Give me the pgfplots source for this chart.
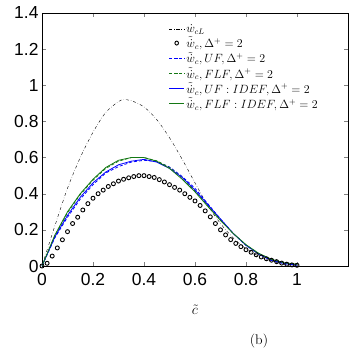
\documentclass[border=0pt]{standalone}
\usepackage{pgfplots}
\pgfplotsset{compat=1.18}
\usepackage{fontspec}
\newfontfamily\tickfont{Liberation Sans}
\definecolor{mgreen}{RGB}{20,120,20}
\begin{document}
\begin{tikzpicture}[x=1bp,y=1bp]
\useasboundingbox (-42,-88) rectangle (312,266);
\begin{axis}[
  at={(0,0)}, anchor=south west,
  scale only axis, width=306bp, height=253bp,
  xmin=0, xmax=1.2, ymin=0, ymax=1.4,
  xtick={0,0.2,0.4,0.6,0.8,1}, ytick={0,0.2,0.4,0.6,0.8,1,1.2,1.4},
  xticklabels={0,0.2,0.4,0.6,0.8,1},
  yticklabels={0,0.2,0.4,0.6,0.8,1,1.2,1.4},
  tick align=inside, tick pos=both,
  major tick length=4bp,
  ticklabel style={font=\tickfont\fontsize{17.5}{19}\selectfont},
  xticklabel style={yshift=-4bp},
  /pgf/number format/assume math mode=true,
  xlabel={$\tilde{c}$}, xlabel style={font=\fontsize{14}{16}\selectfont, at={(axis description cs:0.5,0)}, yshift=-44bp, anchor=center},
  legend style={draw=none, fill=none, at={(0.41,0.965)}, anchor=north west, font=\fontsize{11.5}{13}\selectfont, row sep=0bp, inner sep=1pt},
  legend cell align=left,
  legend image post style={xscale=0.9},
  every axis legend/.append style={nodes={inner sep=1.5pt}},
]
\addplot[black, thin, dash dot, smooth] coordinates {
(0,0) (0.05,0.22) (0.1,0.43) (0.15,0.6) (0.2,0.74) (0.25,0.85) (0.3,0.91) (0.32,0.92) (0.35,0.915) (0.4,0.88) (0.45,0.81) (0.5,0.71) (0.55,0.59) (0.6,0.46) (0.65,0.335) (0.7,0.235) (0.75,0.155) (0.8,0.095) (0.85,0.055) (0.9,0.027) (0.95,0.01) (1.0,0.003)};
\addlegendentry{$\dot{w}_{cL}$}
\addplot[only marks, mark=o, mark size=2bp, black, mark options={line width=0.9pt}] coordinates {
(0.00,0.00) (0.02,0.015) (0.04,0.055) (0.06,0.10) (0.08,0.145) (0.10,0.19) (0.12,0.235) (0.14,0.27) (0.16,0.31) (0.18,0.345) (0.20,0.375) (0.22,0.40) (0.24,0.42) (0.26,0.44) (0.28,0.455) (0.30,0.47) (0.32,0.48) (0.34,0.488) (0.36,0.495) (0.38,0.50) (0.40,0.50) (0.42,0.495) (0.44,0.49) (0.46,0.478) (0.48,0.465) (0.50,0.45) (0.52,0.435) (0.54,0.42) (0.56,0.40) (0.58,0.38) (0.60,0.36) (0.62,0.335) (0.64,0.305) (0.66,0.272) (0.68,0.235) (0.70,0.20) (0.72,0.172) (0.74,0.146) (0.76,0.125) (0.78,0.107) (0.80,0.09) (0.82,0.076) (0.84,0.062) (0.86,0.05) (0.88,0.04) (0.90,0.032) (0.92,0.024) (0.94,0.016) (0.96,0.01) (0.98,0.006) (1.00,0.004)};
\addlegendentry{$\tilde{\dot{w}}_c,\Delta^+=2$}
\addplot[blue, densely dashed, thick] coordinates {
(0,0) (0.05,0.155) (0.1,0.27) (0.15,0.37) (0.2,0.45) (0.25,0.515) (0.3,0.55) (0.35,0.575) (0.4,0.585) (0.45,0.578) (0.5,0.548) (0.55,0.495) (0.6,0.43) (0.65,0.345) (0.7,0.26) (0.75,0.18) (0.8,0.115) (0.85,0.065) (0.9,0.03) (0.95,0.012) (1.0,0.004)};
\addlegendentry{$\tilde{\dot{w}}_c,UF,\Delta^+=2$}
\addplot[mgreen, densely dashed, thick] coordinates {
(0,0) (0.05,0.165) (0.1,0.295) (0.15,0.395) (0.2,0.475) (0.25,0.54) (0.3,0.58) (0.35,0.6) (0.4,0.6) (0.45,0.582) (0.5,0.545) (0.55,0.49) (0.6,0.415) (0.65,0.335) (0.7,0.255) (0.75,0.18) (0.8,0.115) (0.85,0.068) (0.9,0.035) (0.95,0.016) (1.0,0.008)};
\addlegendentry{$\tilde{\dot{w}}_c,FLF,\Delta^+=2$}
\addplot[blue, thick] coordinates {
(0,0) (0.05,0.16) (0.1,0.28) (0.15,0.38) (0.2,0.46) (0.25,0.52) (0.3,0.56) (0.35,0.58) (0.4,0.59) (0.45,0.575) (0.5,0.54) (0.55,0.49) (0.6,0.42) (0.65,0.34) (0.7,0.26) (0.75,0.18) (0.8,0.115) (0.85,0.067) (0.9,0.033) (0.95,0.014) (1.0,0.005)};
\addlegendentry{$\tilde{\dot{w}}_c,UF:IDEF,\Delta^+=2$}
\addplot[mgreen, thick] coordinates {
(0,0) (0.05,0.17) (0.1,0.3) (0.15,0.4) (0.2,0.48) (0.25,0.545) (0.3,0.585) (0.35,0.6) (0.4,0.6) (0.45,0.58) (0.5,0.54) (0.55,0.48) (0.6,0.41) (0.65,0.33) (0.7,0.252) (0.75,0.18) (0.8,0.118) (0.85,0.07) (0.9,0.037) (0.95,0.018) (1.0,0.01)};
\addlegendentry{$\tilde{\dot{w}}_c,FLF:IDEF,\Delta^+=2$}
\end{axis}
\node[font=\fontsize{14}{16}\selectfont] at (217,-75) {(b)};
\end{tikzpicture}
\end{document}
